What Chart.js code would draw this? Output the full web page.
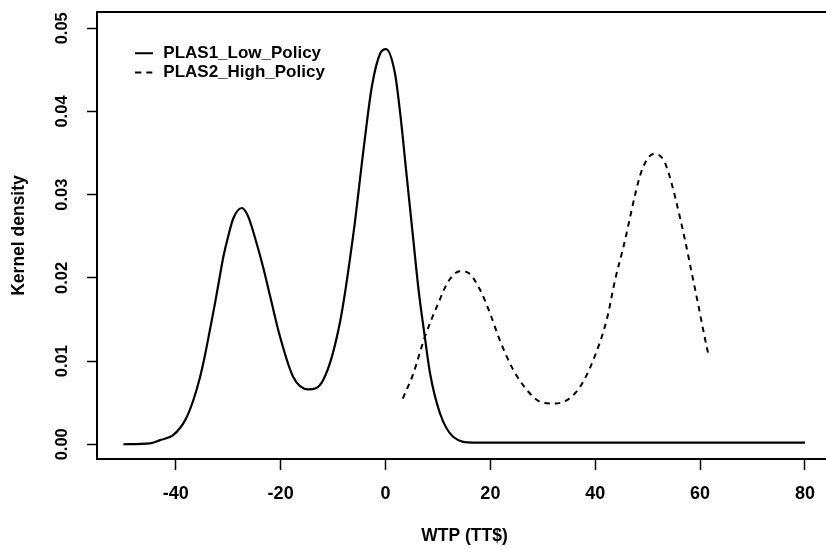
<!DOCTYPE html>
<html>
<head>
<meta charset="utf-8">
<script src="https://cdn.jsdelivr.net/npm/chart.js@4.4.1/dist/chart.umd.min.js"></script>
<style>
  html, body { margin: 0; padding: 0; background: #fff; overflow: hidden; width: 826px; height: 549px; }
  canvas { display: block; }
</style>
</head>
<body>
<canvas id="c" width="832" height="549"></canvas>
<script>
// Kernel density estimates of willingness to pay (TT$)
const lowX = [-50, -44.9, -43.0, -40.5, -38.2, -36.7, -35.4, -34.4, -33.5, -32.5, -31.6, -30.9, -30.0, -29.0, -27.4,
              -26.2, -24.6, -23.3, -22.0, -20.1, -17.6, -14.7,
              -11.9, -8.7, -6.1, -4.2, -2.6, -1.0, 0.1, 1.8, 2.8, 4.0, 5.3, 6.3, 7.5, 8.5, 10.4, 12.9, 16.7, 80];
const lowY = [0, 0.0001, 0.0005, 0.0011, 0.0029, 0.0052, 0.0080, 0.0108, 0.0137, 0.0170, 0.0202, 0.0226, 0.0250, 0.0272, 0.0284,
              0.0274, 0.0242, 0.0212, 0.0178, 0.0129, 0.0081, 0.0066,
              0.0077, 0.0146, 0.0254, 0.0354, 0.0430, 0.0470, 0.0475, 0.0446, 0.0398, 0.0325, 0.0246, 0.0186, 0.0129, 0.0085, 0.0037, 0.0009, 0.0002, 0.0002];

const highX = [3.3, 5.3, 7.5, 10.1, 12.0, 14.2, 15.8, 18.0, 19.9, 21.8, 24.4, 27.0, 29.5, 32.0, 34.6, 37.1,
               39.6, 42.2, 43.8, 45.4, 48.5, 49.5, 51.1, 53.0, 54.0, 55.2, 57.1, 58.4, 59.7, 60.6, 61.6];
const highY = [0.0055, 0.0085, 0.0129, 0.0170, 0.0196, 0.0208, 0.0206, 0.0186, 0.0158, 0.0125, 0.0089, 0.0065, 0.0051, 0.0049, 0.0053, 0.0069,
               0.0101, 0.0150, 0.0198, 0.0238, 0.0322, 0.0338, 0.0349, 0.0342, 0.0326, 0.0298, 0.0246, 0.0206, 0.0166, 0.0137, 0.0107];

const seriesNames = ['PLAS1_Low_Policy', 'PLAS2_High_Policy'];
const xTicks = [-40, -20, 0, 20, 40, 60, 80];
const yTicks = [0, 0.01, 0.02, 0.03, 0.04, 0.05];
const xTitle = 'WTP (TT$)';
const yTitle = 'Kernel density';

const toPoints = (xs, ys) => xs.map((x, i) => ({ x: x, y: ys[i] }));

Chart.defaults.font.family = "'Liberation Sans', Arial, Helvetica, sans-serif";
Chart.defaults.font.weight = 'bold';
Chart.defaults.color = '#000';

// small line samples for the legend (solid and dashed)
function lineSample(dash) {
  const c = document.createElement('canvas');
  c.width = 18; c.height = 4;
  const g = c.getContext('2d');
  g.strokeStyle = '#000';
  g.lineWidth = 2;
  g.setLineDash(dash);
  g.beginPath();
  g.moveTo(0, 2);
  g.lineTo(18, 2);
  g.stroke();
  return c;
}
const legendSamples = [lineSample([]), lineSample([6, 5])];

// frame line along the top of the plotting region
const topFrame = {
  id: 'topFrame',
  beforeDatasetsDraw(chart) {
    const { ctx, chartArea } = chart;
    ctx.save();
    ctx.strokeStyle = '#000';
    ctx.lineWidth = 2;
    ctx.beginPath();
    ctx.moveTo(chartArea.left - 1, chartArea.top);
    ctx.lineTo(chart.width, chartArea.top);
    ctx.stroke();
    ctx.restore();
  }
};

// place the legend inset in the upper-left corner of the plot
const legendInset = {
  id: 'legendInset',
  afterLayout(chart) {
    const lg = chart.legend;
    const w = lg.width, h = Math.max(lg.height, 60);
    lg.left = chart.chartArea.left + 34.5;
    lg.top = chart.chartArea.top + 30.4;
    lg.right = lg.left + w;
    lg.bottom = lg.top + h;
  }
};

new Chart(document.getElementById('c'), {
  type: 'line',
  data: {
    datasets: [
      {
        label: seriesNames[0],
        data: toPoints(lowX, lowY),
        borderColor: '#000',
        backgroundColor: '#000',
        borderWidth: 2.2,
        pointRadius: 0,
        fill: false,
        cubicInterpolationMode: 'monotone'
      },
      {
        label: seriesNames[1],
        data: toPoints(highX, highY),
        borderColor: '#000',
        backgroundColor: '#000',
        borderWidth: 2,
        borderDash: [5.5, 5],
        pointRadius: 0,
        fill: false,
        cubicInterpolationMode: 'monotone'
      }
    ]
  },
  options: {
    responsive: false,
    animation: false,
    events: [],
    layout: { padding: { left: 0, right: 0, top: 12, bottom: 0 } },
    plugins: {
      title: { display: false },
      tooltip: { enabled: false },
      legend: {
        display: true,
        position: 'chartArea',
        align: 'start',
        labels: {
          usePointStyle: true,
          pointStyleWidth: 21,
          padding: 2.3,
          color: '#000',
          font: { size: 17, weight: 'bold' },
          generateLabels: chart =>
            Chart.defaults.plugins.legend.labels.generateLabels(chart)
              .map((item, i) => Object.assign(item, { pointStyle: legendSamples[i] }))
        }
      }
    },
    scales: {
      x: {
        type: 'linear',
        min: -55.02,
        max: 85.15,
        afterBuildTicks: s => { s.ticks = xTicks.map(v => ({ value: v })); },
        afterFit: s => { s.height = 90; s.paddingLeft = 0; s.paddingRight = 0; },
        ticks: {
          padding: 13,
          maxRotation: 0,
          autoSkip: false,
          font: { size: 18, weight: 'bold' },
          color: '#000',
          callback: v => String(v)
        },
        grid: {
          drawOnChartArea: false,
          drawTicks: true,
          tickLength: 11,
          tickWidth: 1.5,
          tickColor: '#000',
          color: '#000'
        },
        border: { display: true, color: '#000', width: 2 },
        title: {
          display: true,
          text: xTitle,
          color: '#000',
          font: { size: 17.5, weight: 'bold' },
          padding: { top: 0, bottom: 2 }
        }
      },
      y: {
        type: 'linear',
        min: -0.00177,
        max: 0.05196,
        afterBuildTicks: s => { s.ticks = yTicks.map(v => ({ value: v })); },
        afterFit: s => { s.width = 97; s.paddingTop = 0; s.paddingBottom = 0; },
        ticks: {
          minRotation: 90,
          maxRotation: 90,
          crossAlign: 'center',
          padding: 8.5,
          autoSkip: false,
          font: { size: 16.5, weight: 'bold' },
          color: '#000',
          callback: v => v.toFixed(2)
        },
        grid: {
          drawOnChartArea: false,
          drawTicks: true,
          tickLength: 10,
          tickWidth: 1.5,
          tickColor: '#000',
          color: '#000'
        },
        border: { display: true, color: '#000', width: 2 },
        title: {
          display: true,
          text: yTitle,
          color: '#000',
          font: { size: 17.5, weight: 'bold' },
          padding: { top: 9, bottom: 0 }
        }
      }
    }
  },
  plugins: [topFrame, legendInset]
});
</script>
</body>
</html>
